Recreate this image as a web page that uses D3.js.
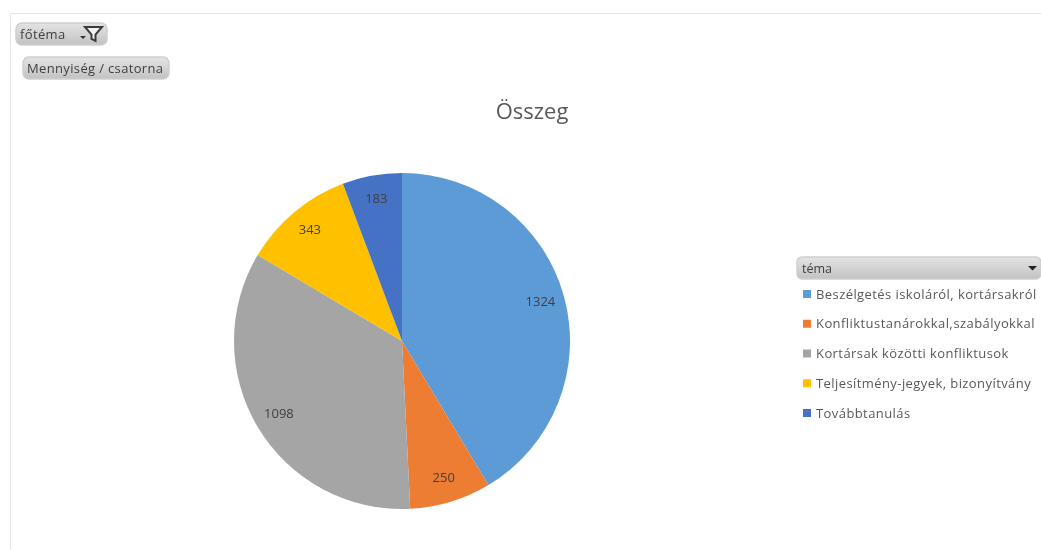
<!DOCTYPE html>
<html><head><meta charset="utf-8">
<script src="https://cdn.jsdelivr.net/npm/d3@7"></script>
<style>html,body{margin:0;padding:0;background:#fff}svg{display:block}text{font-family:"Open Sans","DejaVu Sans",sans-serif}</style>
</head><body><div id="c"></div>
<script>
const categories=["Beszélgetés iskoláról, kortársakról","Konfliktus tanárokkal, szabályokkal","Kortársak közötti konfliktusok","Teljesítmény-jegyek, bizonyítvány","Továbbtanulás"];
const values=[1324,250,1098,343,183];
const colors=["#5b9bd5","#ed7d31","#a5a5a5","#ffc000","#4472c4"];
const titleText="Összeg";
const filterLabel="főtéma";
const fieldLabel="Mennyiség / csatorna";
const legendTitle="téma";

const svg=d3.select("#c").append("svg").attr("width",1041).attr("height",550);
const defs=svg.append("defs");
const g=defs.append("linearGradient").attr("id","btn").attr("x1",0).attr("x2",0).attr("y1",0).attr("y2",1);
g.append("stop").attr("offset","0").attr("stop-color","#e4e4e4");
g.append("stop").attr("offset","1").attr("stop-color","#c2c2c2");
const blur=defs.append("filter").attr("id","soft");
blur.append("feGaussianBlur").attr("stdDeviation",0.55);

const root=svg.append("g").attr("filter","url(#soft)");
root.append("path").attr("d","M10.5 550V13.5H1041").attr("fill","none").attr("stroke","#e4e4e4");

function button(x,y,w,h,label,tx){
  root.append("rect").attr("x",x).attr("y",y).attr("width",w).attr("height",h).attr("rx",6)
    .attr("fill","url(#btn)").attr("stroke","#cfcfcf").attr("stroke-width",1.5);
  root.append("text").attr("x",x+tx).attr("y",y+h/2+4.5).attr("font-size",13).attr("letter-spacing",0.35).attr("fill","#3f3f3f").text(label);
}
button(16,23,91,22,filterLabel,4);
button(23,57,146,22,fieldLabel,4);
root.append("path").attr("d","M80 36h6l-3 3z").attr("fill","#333");
root.append("path").attr("d","M85 27h17l-6.5 7.5v6.5l-4-2v-4.5z").attr("fill","#f2f2f2").attr("stroke","#3a3a3a").attr("stroke-width",2);

root.append("text").attr("x",532).attr("y",119).attr("text-anchor","middle").attr("font-size",22).attr("fill","#595959").text(titleText);

const cx=402,cy=341,r=168;
const pie=d3.pie().sort(null).value(d=>d)(values);
const arc=d3.arc().innerRadius(0).outerRadius(r);
const labelArc=d3.arc().innerRadius(r*0.855).outerRadius(r*0.855);
const p=root.append("g").attr("transform",`translate(${cx},${cy})`);
p.selectAll("path").data(pie).join("path").attr("d",arc).attr("fill",(d,i)=>colors[i]);
p.selectAll("text").data(pie).join("text")
  .attr("transform",d=>`translate(${labelArc.centroid(d)})`)
  .attr("text-anchor","middle").attr("dy","0.25em").attr("font-size",13).attr("fill","#404040").text(d=>d.data);

root.append("rect").attr("x",797).attr("y",257).attr("width",244).attr("height",22).attr("rx",5)
  .attr("fill","url(#btn)").attr("stroke","#cfcfcf").attr("stroke-width",1.5);
root.append("text").attr("x",802).attr("y",272.5).attr("font-size",12.5).attr("fill","#3f3f3f").text(legendTitle);
root.append("path").attr("d","M1028 266h9l-4.5 4.5z").attr("fill","#222");

const ly=d3.scalePoint().domain(categories).range([294,413]);
const l=root.append("g").selectAll("g").data(categories).join("g").attr("transform",d=>`translate(803,${ly(d)})`);
l.append("rect").attr("y",-4).attr("width",8).attr("height",8).attr("fill",(d,i)=>colors[i]);
l.append("text").attr("x",13).attr("y",4.5).attr("font-size",13).attr("letter-spacing",0.42).attr("word-spacing",(d,i)=>i===1?-3.5:0).attr("fill","#595959").text(d=>d);
</script></body></html>
